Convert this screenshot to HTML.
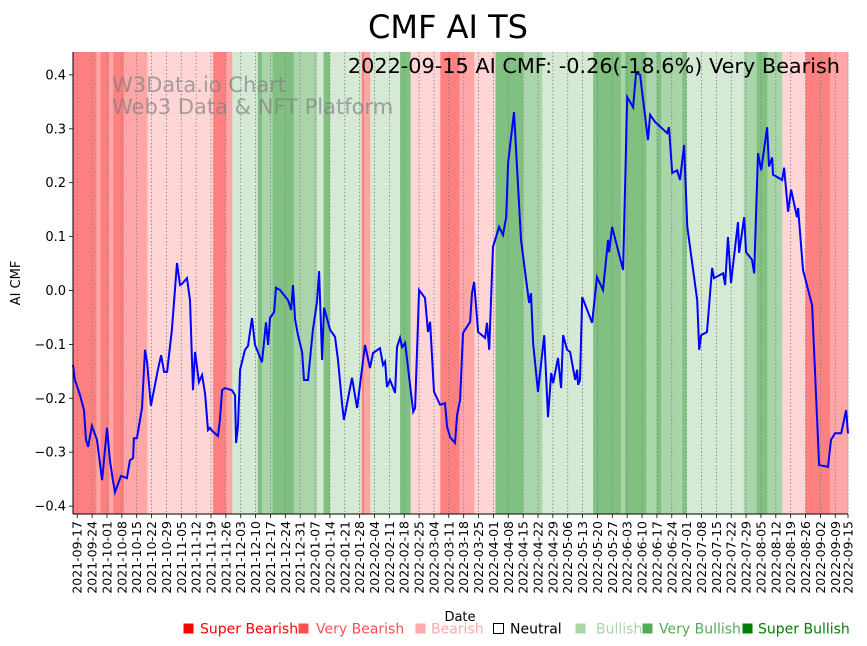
<!DOCTYPE html>
<html><head><meta charset="utf-8"><style>
body{margin:0;background:#fff;}
svg{display:block;font-family:"DejaVu Sans","Liberation Sans",sans-serif;}
</style></head><body>
<svg id="chart" width="867" height="646" viewBox="0 0 867 646" xmlns="http://www.w3.org/2000/svg">
<text x="448" y="38" font-size="32" text-anchor="middle" fill="#000">CMF AI TS</text>
<g id="bands"></g>
<g id="grid"></g>
<text x="112" y="92" font-size="21" fill="#808080" fill-opacity="0.7">W3Data.io Chart</text>
<text x="112" y="114" font-size="21" fill="#808080" fill-opacity="0.7">Web3 Data &amp; NFT Platform</text>
<path id="line" fill="none" stroke="#0000ff" stroke-width="2"/>
<text x="840" y="73" font-size="20.8" text-anchor="end" fill="#000">2022-09-15 AI CMF: -0.26(-18.6%) Very Bearish</text>
<g id="axes"></g>
<text transform="translate(20,283) rotate(-90)" font-size="13" text-anchor="middle">AI CMF</text>
<text x="460" y="621" font-size="13" text-anchor="middle">Date</text>
<g id="legend"></g>
</svg>
<script>
const days=[0,0.9,3.3,5.2,6.1,7.1,8.9,11.3,12.2,13.7,16.0,17.4,18.8,19.8,22.6,25.4,26.8,28.3,28.7,30.1,32.5,33.9,34.9,36.7,40.0,41.5,42.9,44.3,46.6,49.0,50.4,51.3,53.7,55.1,56.5,57.5,59.3,60.8,62.2,63.6,64.5,65.9,68.3,69.2,70.2,71.6,74.9,76.3,76.8,77.7,78.7,81.0,82.4,84.3,85.7,89.0,90.9,91.9,92.8,94.7,95.6,97.5,101.3,102.7,103.6,104.6,106.0,107.9,108.8,110.7,113.0,114.9,115.9,117.3,118.2,121.1,123.4,124.8,126.7,127.6,131.4,133.8,137.5,139.9,141.3,144.6,146.0,147.0,147.9,149.3,151.7,152.6,154.0,155.0,156.4,160.2,161.1,163.0,165.8,167.2,168.2,170.0,172.9,175.2,176.2,177.6,179.9,180.9,182.3,183.7,187.0,187.9,188.9,190.8,194.1,195.0,196.0,197.8,200.7,202.5,204.0,204.9,207.7,211.0,214.8,215.7,216.7,219.0,221.9,223.7,225.2,226.1,228.4,229.9,230.8,232.7,234.1,236.5,237.4,237.9,238.8,239.8,244.5,246.8,249.6,252.0,252.5,253.9,259.1,261.0,263.8,265.2,267.1,270.8,271.8,274.1,279.8,280.7,282.2,284.5,285.9,287.8,289.3,294.0,294.9,295.8,298.6,301.0,301.9,306.2,307.1,308.5,309.9,313.2,313.7,316.1,317.0,319.8,320.8,322.6,324.1,326.9,327.8,329.3,329.7,334.0,334.9,336.8,338.2,341.0,341.5,343.8,348.1,351.4,355.6,357.0,358.9,361.8,364.1,365];
const cmf=[-0.138,-0.166,-0.194,-0.222,-0.277,-0.290,-0.251,-0.277,-0.305,-0.352,-0.255,-0.315,-0.352,-0.374,-0.344,-0.348,-0.315,-0.311,-0.274,-0.274,-0.218,-0.110,-0.133,-0.214,-0.147,-0.120,-0.151,-0.151,-0.073,0.051,0.010,0.012,0.023,-0.018,-0.185,-0.114,-0.170,-0.157,-0.192,-0.259,-0.255,-0.262,-0.270,-0.240,-0.185,-0.181,-0.185,-0.194,-0.283,-0.250,-0.147,-0.110,-0.103,-0.051,-0.101,-0.133,-0.059,-0.101,-0.051,-0.040,0.005,0.001,-0.018,-0.036,0.010,-0.054,-0.084,-0.114,-0.166,-0.166,-0.073,-0.021,0.036,-0.129,-0.032,-0.073,-0.086,-0.129,-0.209,-0.240,-0.162,-0.218,-0.101,-0.144,-0.116,-0.107,-0.138,-0.132,-0.179,-0.166,-0.190,-0.105,-0.088,-0.105,-0.097,-0.225,-0.218,0.001,-0.014,-0.077,-0.058,-0.188,-0.212,-0.209,-0.253,-0.272,-0.283,-0.231,-0.203,-0.079,-0.058,-0.005,0.016,-0.077,-0.088,-0.060,-0.110,0.081,0.118,0.103,0.136,0.237,0.331,0.094,-0.023,-0.005,-0.097,-0.188,-0.083,-0.235,-0.153,-0.172,-0.125,-0.181,-0.083,-0.110,-0.114,-0.166,-0.147,-0.175,-0.166,-0.012,-0.060,0.025,0.001,0.094,0.071,0.118,0.038,0.359,0.340,0.404,0.400,0.279,0.326,0.313,0.292,0.303,0.218,0.223,0.205,0.270,0.118,-0.018,-0.110,-0.083,-0.077,0.042,0.023,0.032,0.010,0.099,0.014,0.127,0.070,0.136,0.071,0.057,0.032,0.255,0.223,0.303,0.230,0.247,0.215,0.205,0.228,0.146,0.187,0.136,0.153,0.038,-0.027,-0.324,-0.327,-0.277,-0.265,-0.265,-0.222,-0.265];
const bandStart=[0,11,13,17,19,24,35,66,72,75,87,89,94,104,115,118,121,136,137,140,154,159,173,182,189,199,212,221,245,258,260,270,275,277,287,289,316,322,327,334,345,356.5];
const bandCat=[0,1,0,1,0,1,2,0,1,3,5,4,5,4,3,5,3,0,1,3,5,2,0,1,2,5,4,3,5,4,5,4,5,4,5,3,4,5,4,2,0,1];
const yTicks=[-0.4,-0.3,-0.2,-0.1,0.0,0.1,0.2,0.3,0.4];
const legendLabels=["Super Bearish","Very Bearish","Bearish","Neutral","Bullish","Very Bullish","Super Bullish"];

const NS="http://www.w3.org/2000/svg";
const X0=73,X1=848,Y0=52,Y1=514,DMAX=365;
const xs=d=>X0+(X1-X0)*d/DMAX;
const ys=v=>290.5-v*539;
const bandColors=["#ff8080","#ffa6a6","#ffd5d5","#d5e9d5","#aad4aa","#80c080"];
function mk(tag,attrs,parent){const e=document.createElementNS(NS,tag);for(const k in attrs)e.setAttribute(k,attrs[k]);parent.appendChild(e);return e;}

const bands=document.getElementById('bands');
bandStart.forEach((s,i)=>{
  const e=(i+1<bandStart.length)?bandStart[i+1]:DMAX;
  const r=mk('rect',{x:xs(s),y:Y0,width:xs(e)-xs(s)+0.3,height:Y1-Y0,fill:bandColors[bandCat[i]]},bands);
  
  
});

const start=new Date(Date.UTC(2021,8,15));
const tickDays=[];for(let d=2;d<=360;d+=7)tickDays.push(d);tickDays.push(365);
const grid=document.getElementById('grid'),axes=document.getElementById('axes');
function fmt(d){const t=new Date(start.getTime()+d*86400000);return t.getUTCFullYear()+'-'+String(t.getUTCMonth()+1).padStart(2,'0')+'-'+String(t.getUTCDate()).padStart(2,'0');}
tickDays.forEach(d=>{
  const x=xs(d);
  const g=mk('line',{x1:x,x2:x,y1:Y0,y2:Y1,stroke:'#808080','stroke-width':0.8,'stroke-dasharray':'1.5,2'},grid);
  
  
  const t=mk('line',{x1:x,x2:x,y1:Y1,y2:Y1+4,stroke:'#000','stroke-width':0.8},axes);
  
  
  const l=mk('text',{transform:`translate(${x+4.5},${Y1+7}) rotate(-90)`,'font-size':12.5,'text-anchor':'end'},axes);
  l.textContent=fmt(d);
  
  
});
yTicks.forEach(v=>{
  const y=ys(v);
  const t=mk('line',{x1:X0-4,x2:X0,y1:y,y2:y,stroke:'#000','stroke-width':0.8},axes);
  
  
  const l=mk('text',{x:X0-7,y:y+4.5,'font-size':13,'text-anchor':'end'},axes);
  l.textContent=(v<0?'\u2212':'')+Math.abs(v).toFixed(1);
  
  
});
const sl=mk('line',{x1:X0,x2:X0,y1:Y0,y2:Y1,stroke:'#000','stroke-width':1},axes);


const sb=mk('line',{x1:X0,x2:X1,y1:Y1,y2:Y1,stroke:'#000','stroke-width':1},axes);



document.getElementById('line').setAttribute('d',days.map((d,i)=>(i?'L':'M')+xs(d).toFixed(1)+','+ys(cmf[i]).toFixed(1)).join(''));

const legend=document.getElementById('legend');
const legPos=[183,298,415,493,575,642,742];
const legTextX=[200,316,431,510,596,659,758];
const legCols=["#ff0000","#ff5050","#ffaaaa","#ffffff","#aad5aa","#55aa55","#008000"];
const legText=["#ff0000","#ff5050","#ffaaaa","#000000","#aad5aa","#55aa55","#008000"];
legendLabels.forEach((lab,i)=>{
  const r=mk('rect',{x:legPos[i]+0.5,y:623.5,width:10,height:10,fill:legCols[i],stroke:i==3?'#000':'none','stroke-width':1},legend);
  
  
  const t=mk('text',{x:legTextX[i],y:633.5,'font-size':14,fill:legText[i]},legend);
  t.textContent=lab;
  
  
});
</script>
</body></html>
